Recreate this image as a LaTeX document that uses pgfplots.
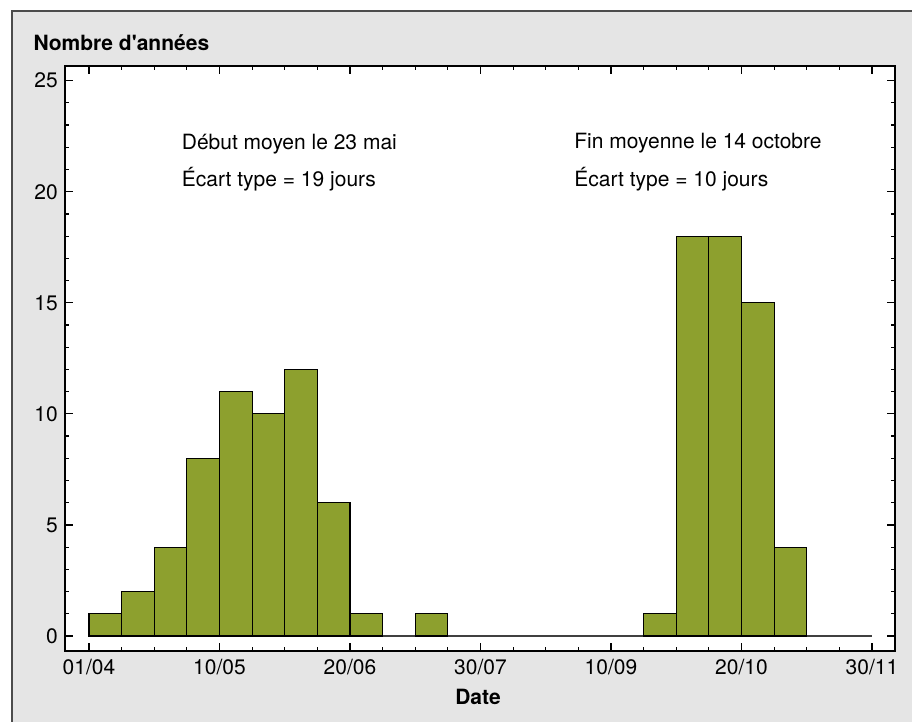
\documentclass[border=0pt]{standalone}
\usepackage{fontspec}
\setmainfont{TeX Gyre Heros}
\usepackage{pgfplots}
\pgfplotsset{compat=1.18}
\definecolor{barolive}{RGB}{141,160,46}
\definecolor{bgray}{RGB}{229,229,229}
\begin{document}
\fontsize{21}{25}\selectfont
\begin{tikzpicture}
\path[use as bounding box] (0,0) rectangle (912pt,-721pt);
\clip (0,0) rectangle (912pt,-721pt);
\draw[fill=bgray, draw=black!70, line width=1.5pt] (12pt,-11pt) rectangle (960pt,-780pt);
\begin{axis}[
  at={(65pt,-651pt)}, anchor=south west,
  scale only axis, width=830pt, height=585pt,
  xmin=-7.36, xmax=247.05, ymin=-0.675, ymax=25.66,
  axis background/.style={fill=white},
  xtick={0,40,...,240},
  xticklabels={01/04,10/05,20/06,30/07,10/09,20/10,30/11},
  minor x tick num=3,
  ytick={0,5,...,25}, minor y tick num=4,
  tick align=inside,
  major tick length=8pt, minor tick length=4pt,
  axis line style={line width=1.3pt, black},
  every tick/.append style={black, line width=1.2pt},
  /pgf/number format/assume math mode=true,
  xticklabel style={yshift=-1pt},
]
\addplot[black!75, line width=1.3pt] coordinates {(0,0)(240,0)};
\addplot[ybar interval, fill=barolive, draw=black, line width=1.2pt] coordinates {(0,1)(10,2)(20,4)(30,8)(40,11)(50,10)(60,12)(70,6)(80,1)(90,0)};
\addplot[ybar interval, fill=barolive, draw=black, line width=1.2pt] coordinates {(100,1)(110,0)};
\addplot[ybar interval, fill=barolive, draw=black, line width=1.2pt] coordinates {(170,1)(180,18)(190,18)(200,15)(210,4)(220,0)};
\node[anchor=base west, inner sep=0] at (axis cs:28.4,21.88) {Début moyen le 23 mai};
\node[anchor=base west, inner sep=0] at (axis cs:28.4,20.22) {Écart type = 19 jours};
\node[anchor=base west, inner sep=0] at (axis cs:148.7,21.95) {Fin moyenne le 14 octobre};
\node[anchor=base west, inner sep=0] at (axis cs:148.7,20.22) {Écart type = 10 jours};
\end{axis}
\node[anchor=base west, inner sep=0, font=\bfseries] at (33.3pt,-50pt) {Nombre d\textquotesingle années};
\node[anchor=base, inner sep=0, font=\bfseries] at (478pt,-704pt) {Date};
\end{tikzpicture}
\end{document}
